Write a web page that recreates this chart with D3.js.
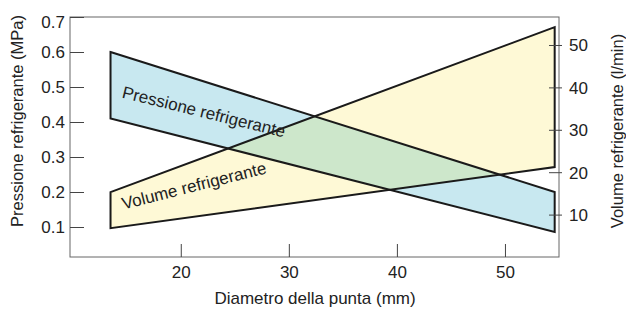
<!DOCTYPE html>
<html><head><meta charset="utf-8">
<script src="https://cdn.jsdelivr.net/npm/d3@7"></script>
<style>body{margin:0;background:#fff}svg{display:block;font-family:"Liberation Sans",Arial,sans-serif}</style>
</head><body><svg id="c" width="626" height="311"></svg>
<script>
// Data
const diameterEnds = [13.5, 54.6];           // mm
const pressioneTop = [0.60, 0.20];           // MPa
const pressioneBottom = [0.41, 0.086];       // MPa
const volumeTop = [15.3, 54.2];              // l/min
const volumeBottom = [6.8, 21.2];            // l/min
const xTicks = [20, 30, 40, 50];
const yLeftTicks = [0.1, 0.2, 0.3, 0.4, 0.5, 0.6, 0.7];
const yRightTicks = [10, 20, 30, 40, 50];

const FF = "Liberation Sans, Arial, sans-serif";
const svg = d3.select("#c");
const L = 70, R = 559, T = 17, B = 257;
const x = d3.scaleLinear().domain([9.75, 55]).range([L, R]);
const yP = d3.scaleLinear().domain([0.0143, 0.7]).range([B, T]);
const yV = d3.scaleLinear().domain([0, 56.6]).range([B, T]);

function band(top, bottom, ys) {
  return [
    [x(diameterEnds[0]), ys(top[0])],
    [x(diameterEnds[1]), ys(top[1])],
    [x(diameterEnds[1]), ys(bottom[1])],
    [x(diameterEnds[0]), ys(bottom[0])]
  ];
}
const pPoly = band(pressioneTop, pressioneBottom, yP);
const vPoly = band(volumeTop, volumeBottom, yV);
const line = d3.line().curve(d3.curveLinearClosed);

svg.append("defs").append("clipPath").attr("id", "clipP")
  .append("path").attr("d", line(pPoly));

svg.append("path").attr("d", line(pPoly)).attr("fill", "#c8e8f0");
svg.append("path").attr("d", line(vPoly)).attr("fill", "#fef9d6");
svg.append("path").attr("d", line(vPoly)).attr("fill", "#cde7cb").attr("clip-path", "url(#clipP)");
[pPoly, vPoly].forEach(p => svg.append("path").attr("d", line(p))
  .attr("fill", "none").attr("stroke", "#1a1a1a").attr("stroke-width", 2).attr("stroke-linejoin", "miter"));

// frame
svg.append("rect").attr("x", L).attr("y", T).attr("width", R - L).attr("height", B - T)
  .attr("fill", "none").attr("stroke", "#666").attr("stroke-width", 1);

// bottom axis
const xa = svg.append("g").attr("transform", `translate(0,${B})`)
  .call(d3.axisBottom(x).tickValues(xTicks).tickSize(-13).tickPadding(0).tickFormat(d3.format("d")));
xa.select(".domain").remove();
xa.selectAll("line").attr("stroke", "#444");
xa.selectAll("text").attr("y", 21).attr("dy", 0).attr("font-size", 17).attr("fill", "#222").attr("font-family", FF);

// left axis
const ya = svg.append("g").attr("transform", `translate(${L},0)`)
  .call(d3.axisLeft(yP).tickValues(yLeftTicks).tickSize(-14).tickFormat(d3.format(".1f")));
ya.select(".domain").remove();
ya.selectAll("line").attr("stroke", "#444");
ya.selectAll("text").attr("x", -5).attr("font-size", 17).attr("fill", "#222").attr("font-family", FF)
  .attr("dy", d => d === 0.7 ? "0.6em" : "0.35em");

// right axis
const yr = svg.append("g").attr("transform", `translate(${R},0)`)
  .call(d3.axisRight(yV).tickValues(yRightTicks).tickSize(-10).tickFormat(d3.format("d")));
yr.select(".domain").remove();
yr.selectAll("line").attr("stroke", "#444").attr("x2", -10).attr("x1", 3);
yr.selectAll("text").attr("x", 10).attr("dy", "0.35em").attr("font-size", 17).attr("fill", "#222").attr("font-family", FF);

// axis titles
svg.append("text").attr("x", 315).attr("y", 304).attr("text-anchor", "middle")
  .attr("font-size", 17).attr("fill", "#222").text("Diametro della punta (mm)");
svg.append("text").attr("transform", "translate(23,121) rotate(-90)").attr("text-anchor", "middle")
  .attr("font-size", 16.5).attr("fill", "#222").text("Pressione refrigerante (MPa)");
svg.append("text").attr("transform", "translate(623,131) rotate(-90)").attr("text-anchor", "middle")
  .attr("font-size", 16.5).attr("fill", "#222").text("Volume refrigerante (l/min)");

// band labels
svg.append("text").attr("transform", `translate(${x(14.5)},${yP(0.47)}) rotate(13.8)`)
  .attr("font-size", 17).attr("fill", "#222").text("Pressione refrigerante");
svg.append("text").attr("transform", `translate(${x(14.7)},${yV(11.2)}) rotate(-14.2)`)
  .attr("font-size", 17).attr("fill", "#222").text("Volume refrigerante");
</script></body></html>
